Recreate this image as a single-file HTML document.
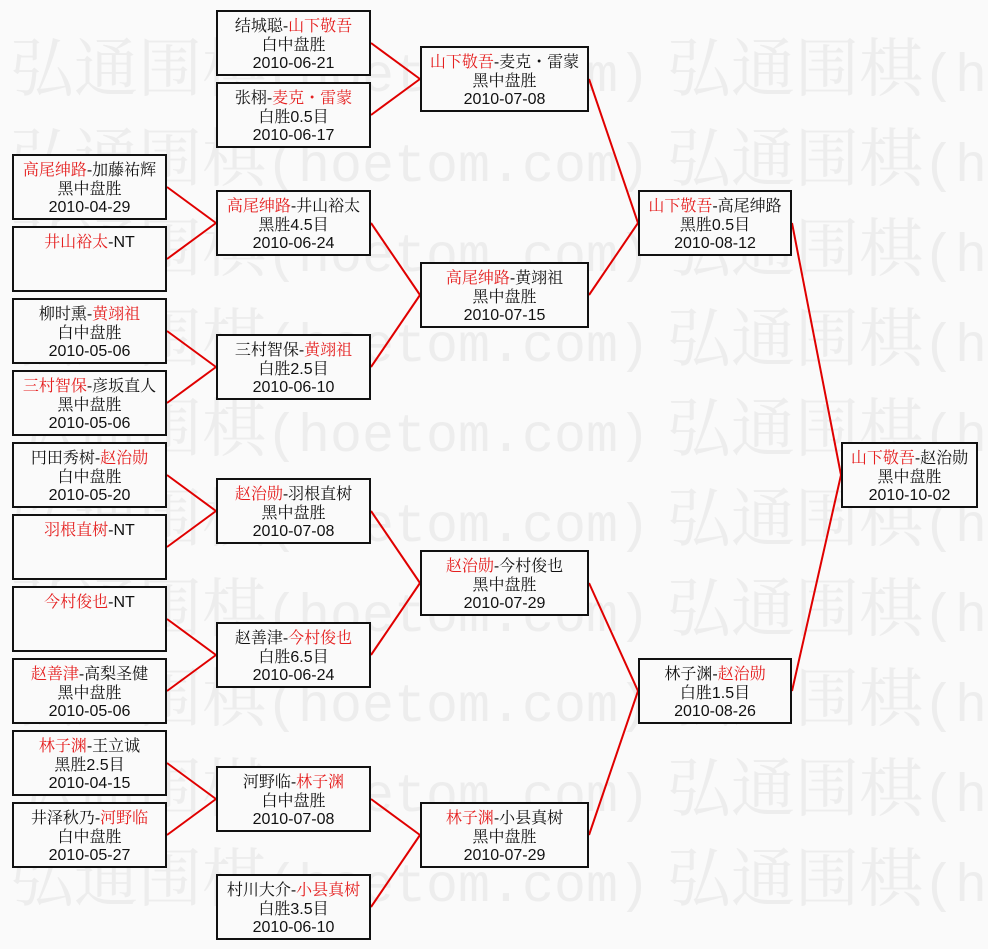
<!DOCTYPE html>
<html>
<head>
<meta charset="utf-8">
<style>
  html,body{margin:0;padding:0;}
  body{width:988px;height:949px;position:relative;overflow:hidden;background:#fafafa;
       font-family:"Liberation Sans","Noto Serif CJK SC",serif;}
  svg{position:absolute;left:0;top:0;overflow:hidden;}
  .wm text{fill:#ededed;}
  .c{font-family:"Noto Serif CJK SC","Liberation Serif",serif;font-size:64px;}
  .m{font-family:"Liberation Mono",monospace;font-size:53.33px;}
  .b{position:absolute;box-sizing:border-box;height:66px;border:2px solid #111;background:#fafafa;
     text-align:center;font-size:16px;line-height:18.5px;padding-top:6px;color:#111;white-space:nowrap;}
  .r{color:#e52020;}
  .A,.B{width:155px;}
  .A{left:12px;} .B{left:216px;}
  .C{left:420px;width:169px;}
  .D{left:638px;width:154px;}
  .E{left:841px;width:137px;}
</style>
</head>
<body>
<svg class="wm" width="988" height="949">
  <text y="91"><tspan x="10" class="c">弘通围棋</tspan><tspan class="m">(hoetom.com)</tspan><tspan x="667" class="c">弘通围棋</tspan><tspan class="m">(hoetom.com)</tspan></text>
  <text y="181"><tspan x="10" class="c">弘通围棋</tspan><tspan class="m">(hoetom.com)</tspan><tspan x="667" class="c">弘通围棋</tspan><tspan class="m">(hoetom.com)</tspan></text>
  <text y="271"><tspan x="10" class="c">弘通围棋</tspan><tspan class="m">(hoetom.com)</tspan><tspan x="667" class="c">弘通围棋</tspan><tspan class="m">(hoetom.com)</tspan></text>
  <text y="361"><tspan x="10" class="c">弘通围棋</tspan><tspan class="m">(hoetom.com)</tspan><tspan x="667" class="c">弘通围棋</tspan><tspan class="m">(hoetom.com)</tspan></text>
  <text y="451"><tspan x="10" class="c">弘通围棋</tspan><tspan class="m">(hoetom.com)</tspan><tspan x="667" class="c">弘通围棋</tspan><tspan class="m">(hoetom.com)</tspan></text>
  <text y="541"><tspan x="10" class="c">弘通围棋</tspan><tspan class="m">(hoetom.com)</tspan><tspan x="667" class="c">弘通围棋</tspan><tspan class="m">(hoetom.com)</tspan></text>
  <text y="631"><tspan x="10" class="c">弘通围棋</tspan><tspan class="m">(hoetom.com)</tspan><tspan x="667" class="c">弘通围棋</tspan><tspan class="m">(hoetom.com)</tspan></text>
  <text y="721"><tspan x="10" class="c">弘通围棋</tspan><tspan class="m">(hoetom.com)</tspan><tspan x="667" class="c">弘通围棋</tspan><tspan class="m">(hoetom.com)</tspan></text>
  <text y="811"><tspan x="10" class="c">弘通围棋</tspan><tspan class="m">(hoetom.com)</tspan><tspan x="667" class="c">弘通围棋</tspan><tspan class="m">(hoetom.com)</tspan></text>
  <text y="901"><tspan x="10" class="c">弘通围棋</tspan><tspan class="m">(hoetom.com)</tspan><tspan x="667" class="c">弘通围棋</tspan><tspan class="m">(hoetom.com)</tspan></text>
</svg>

<svg width="988" height="949">
  <g stroke="#e00000" stroke-width="2" fill="none">
    <line x1="167" y1="187" x2="216" y2="223"/>
    <line x1="167" y1="259" x2="216" y2="223"/>
    <line x1="167" y1="331" x2="216" y2="367"/>
    <line x1="167" y1="403" x2="216" y2="367"/>
    <line x1="167" y1="475" x2="216" y2="511"/>
    <line x1="167" y1="547" x2="216" y2="511"/>
    <line x1="167" y1="619" x2="216" y2="655"/>
    <line x1="167" y1="691" x2="216" y2="655"/>
    <line x1="167" y1="763" x2="216" y2="799"/>
    <line x1="167" y1="835" x2="216" y2="799"/>
    <line x1="371" y1="43" x2="420" y2="79"/>
    <line x1="371" y1="115" x2="420" y2="79"/>
    <line x1="371" y1="223" x2="420" y2="295"/>
    <line x1="371" y1="367" x2="420" y2="295"/>
    <line x1="371" y1="511" x2="420" y2="583"/>
    <line x1="371" y1="655" x2="420" y2="583"/>
    <line x1="371" y1="799" x2="420" y2="835"/>
    <line x1="371" y1="907" x2="420" y2="835"/>
    <line x1="589" y1="79" x2="638" y2="223"/>
    <line x1="589" y1="295" x2="638" y2="223"/>
    <line x1="589" y1="583" x2="638" y2="691"/>
    <line x1="589" y1="835" x2="638" y2="691"/>
    <line x1="792" y1="223" x2="841" y2="475"/>
    <line x1="792" y1="691" x2="841" y2="475"/>
  </g>
</svg>

<div class="b A" style="top:154px"><span class="r">高尾绅路</span>-加藤祐辉<br>黑中盘胜<br>2010-04-29</div>
<div class="b A" style="top:226px"><span class="r">井山裕太</span>-NT</div>
<div class="b A" style="top:298px">柳时熏-<span class="r">黄翊祖</span><br>白中盘胜<br>2010-05-06</div>
<div class="b A" style="top:370px"><span class="r">三村智保</span>-彦坂直人<br>黑中盘胜<br>2010-05-06</div>
<div class="b A" style="top:442px">円田秀树-<span class="r">赵治勋</span><br>白中盘胜<br>2010-05-20</div>
<div class="b A" style="top:514px"><span class="r">羽根直树</span>-NT</div>
<div class="b A" style="top:586px"><span class="r">今村俊也</span>-NT</div>
<div class="b A" style="top:658px"><span class="r">赵善津</span>-高梨圣健<br>黑中盘胜<br>2010-05-06</div>
<div class="b A" style="top:730px"><span class="r">林子渊</span>-王立诚<br>黑胜2.5目<br>2010-04-15</div>
<div class="b A" style="top:802px">井泽秋乃-<span class="r">河野临</span><br>白中盘胜<br>2010-05-27</div>

<div class="b B" style="top:10px">结城聪-<span class="r">山下敬吾</span><br>白中盘胜<br>2010-06-21</div>
<div class="b B" style="top:82px">张栩-<span class="r">麦克・雷蒙</span><br>白胜0.5目<br>2010-06-17</div>
<div class="b B" style="top:190px"><span class="r">高尾绅路</span>-井山裕太<br>黑胜4.5目<br>2010-06-24</div>
<div class="b B" style="top:334px">三村智保-<span class="r">黄翊祖</span><br>白胜2.5目<br>2010-06-10</div>
<div class="b B" style="top:478px"><span class="r">赵治勋</span>-羽根直树<br>黑中盘胜<br>2010-07-08</div>
<div class="b B" style="top:622px">赵善津-<span class="r">今村俊也</span><br>白胜6.5目<br>2010-06-24</div>
<div class="b B" style="top:766px">河野临-<span class="r">林子渊</span><br>白中盘胜<br>2010-07-08</div>
<div class="b B" style="top:874px">村川大介-<span class="r">小县真树</span><br>白胜3.5目<br>2010-06-10</div>

<div class="b C" style="top:46px"><span class="r">山下敬吾</span>-麦克・雷蒙<br>黑中盘胜<br>2010-07-08</div>
<div class="b C" style="top:262px"><span class="r">高尾绅路</span>-黄翊祖<br>黑中盘胜<br>2010-07-15</div>
<div class="b C" style="top:550px"><span class="r">赵治勋</span>-今村俊也<br>黑中盘胜<br>2010-07-29</div>
<div class="b C" style="top:802px"><span class="r">林子渊</span>-小县真树<br>黑中盘胜<br>2010-07-29</div>

<div class="b D" style="top:190px"><span class="r">山下敬吾</span>-高尾绅路<br>黑胜0.5目<br>2010-08-12</div>
<div class="b D" style="top:658px">林子渊-<span class="r">赵治勋</span><br>白胜1.5目<br>2010-08-26</div>

<div class="b E" style="top:442px"><span class="r">山下敬吾</span>-赵治勋<br>黑中盘胜<br>2010-10-02</div>
</body>
</html>
